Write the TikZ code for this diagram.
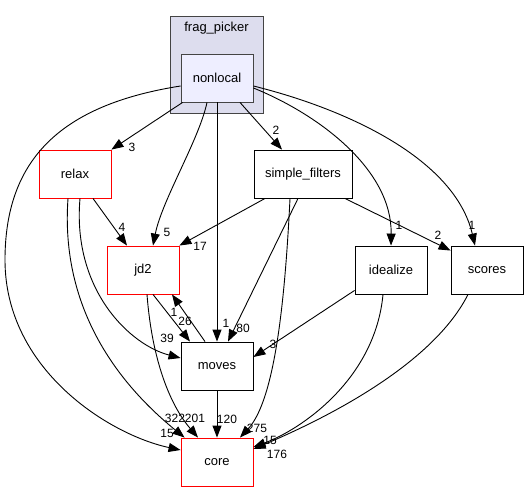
\documentclass[tikz,border=0pt]{standalone}
\usepackage{fontspec}
\setmainfont{Liberation Sans}
\usetikzlibrary{arrows.meta}
\definecolor{clfill}{HTML}{DDDDEE}
\definecolor{nlfill}{HTML}{EEEEFF}
\definecolor{bord}{HTML}{444444}
\tikzset{
  dirbox/.style={draw=black, line width=0.9pt, minimum width=72pt, minimum height=48pt, inner sep=0pt, font=\fontsize{13}{15}\selectfont, fill=white},
  redbox/.style={dirbox, draw=red},
  edge/.style={line width=0.9pt, -{Triangle[length=12pt,width=9pt]}},
  lbl/.style={font=\fontsize{12}{14}\selectfont, inner sep=0pt}
}
\begin{document}
\begin{tikzpicture}[x=1pt,y=-1pt]
\useasboundingbox[fill=white] (0,0) rectangle (529,492);
\node[draw=bord, fill=clfill, line width=0.9pt, minimum width=93pt, minimum height=97pt, inner sep=0pt] (cluster) at (216.5,64.5) {};
\node[font=\fontsize{13}{15}\selectfont] (clabel) at (216.5,28) {frag\_picker};
\node[dirbox, draw=bord, fill=nlfill] (nonlocal) at (217,78) {nonlocal};
\node[redbox] (relax) at (75,174) {relax};
\node[redbox] (jd2) at (143,270) {jd2};
\node[dirbox, minimum width=98pt] (sf) at (303,174) {simple\_filters};
\node[dirbox] (idealize) at (391,270) {idealize};
\node[dirbox] (scores) at (487,270) {scores};
\node[dirbox] (moves) at (217,366) {moves};
\node[redbox] (core) at (217,462) {core};

% nonlocal edges
\draw[edge] ([xshift=2pt]nonlocal.south west) -- (relax.north east);
\node[lbl] (l1) at (132,147) {3};
\draw[edge] ([xshift=-10pt]nonlocal.south) .. controls (199,140) and (162,200) .. ([xshift=10pt]jd2.north);
\node[lbl] (l2) at (167,232) {5};
\draw[edge] (nonlocal.south) -- (moves.north);
\node[lbl] (l3) at (226,323) {1};
\draw[edge] ([xshift=23pt]nonlocal.south) -- ([xshift=-21pt]sf.north);
\node[lbl] (l4) at (276,130) {2};
\draw[edge] ([yshift=-10pt]nonlocal.east) .. controls (320,115) and (392,170) .. (idealize.north);
\node[lbl] (l5) at (399,225) {1};
\draw[edge] ([yshift=-8pt]nonlocal.east) .. controls (350,110) and (455,160) .. ([xshift=-12pt]scores.north);
\node[lbl] (l6) at (472,225) {1};
\draw[edge] ([yshift=-8pt]nonlocal.west) .. controls (60,105) and (5,160) .. (5,260) .. controls (5,370) and (110,435) .. ([yshift=12pt]core.west);
\node[lbl] (l7) at (167,433) {15};

% relax edges
\draw[edge] ([xshift=18pt]relax.south) -- ([xshift=-16pt]jd2.north);
\node[lbl] (l8) at (122,227) {4};
\draw[edge] ([xshift=5pt]relax.south) .. controls (72,290) and (130,345) .. ([yshift=8pt]moves.west);
\node[lbl] (l9) at (167,338) {39};
\draw[edge] ([xshift=-7pt]relax.south) .. controls (60,310) and (120,385) .. ([xshift=4pt]core.north west);
\node[lbl] (l10) at (175,418) {322};

% simple_filters edges
\draw[edge] ([xshift=-38pt]sf.south) -- (jd2.north east);
\node[lbl] (l11) at (200,246) {17};
\draw[edge] ([xshift=-5pt]sf.south) -- ([xshift=11pt]moves.north);
\node[lbl] (l12) at (243,328) {80};
\draw[edge] ([xshift=-13pt]sf.south) .. controls (285,300) and (275,400) .. ([xshift=23pt]core.north);
\node[lbl] (l13) at (257,428) {275};
\draw[edge] ([xshift=42pt]sf.south) -- ([yshift=-5pt]scores.north west);
\node[lbl] (l14) at (438,235) {2};

% jd2 / moves
\draw[edge] ([xshift=10pt]jd2.south) -- ([xshift=-27pt]moves.north);
\node[lbl] (l15) at (185,321) {26};
\draw[edge] ([xshift=-12pt]moves.north) -- ([xshift=29pt]jd2.south);
\node[lbl] (l16) at (174,312) {1};
\draw[edge] ([xshift=4pt]jd2.south) .. controls (152,360) and (170,405) .. ([xshift=-19pt]core.north);
\node[lbl] (l17) at (195,418) {201};
\draw[edge] (moves.south) -- (core.north);
\node[lbl] (l18) at (227,419) {120};

% idealize / scores
\draw[edge] ([yshift=4pt]idealize.south west) -- ([yshift=9pt]moves.east);
\node[lbl] (l19) at (273,344) {3};
\draw[edge] ([xshift=-8pt]idealize.south) .. controls (375,380) and (300,430) .. ([yshift=15pt]core.east);
\node[lbl] (l20) at (270,440) {15};
\draw[edge] ([xshift=-19pt]scores.south) .. controls (430,370) and (310,425) .. ([yshift=13pt]core.east);
\node[lbl] (l21) at (277,454) {176};
\end{tikzpicture}
\end{document}
